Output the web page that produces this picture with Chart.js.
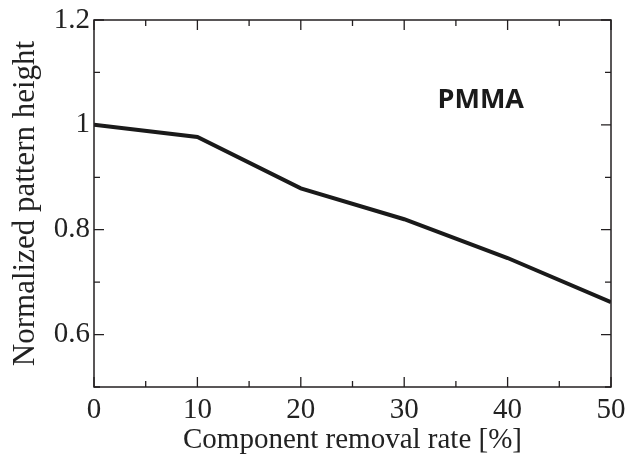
<!DOCTYPE html>
<html>
<head>
<meta charset="utf-8">
<script src="https://cdn.jsdelivr.net/npm/chart.js@4"></script>
<style>
  html, body { margin: 0; padding: 0; background: #fff; }
  #wrap { width: 627px; height: 467px; }
</style>
</head>
<body>
<div id="wrap"><canvas id="chart"></canvas></div>
<script>
// data
const removalRate = [0, 10, 20, 30, 40, 50];
const patternHeight = [1.0, 0.977, 0.879, 0.82, 0.746, 0.662];
const xTitle = 'Component removal rate [%]';
const yTitle = 'Normalized pattern height';
const noteText = 'PMMA';
const notePos = {x: 37.4, y: 1.047};

const serif = 'Liberation Serif';
const ink = '#231f20';

// frame + inward ticks on all four sides, plus the PMMA label
const framePlugin = {
    id: 'frame',
    afterDraw(chart) {
        const ctx = chart.ctx;
        const a = chart.chartArea;
        const xs = chart.scales.x, ys = chart.scales.y;
        ctx.save();
        ctx.strokeStyle = ink;
        ctx.lineWidth = 1.5;
        ctx.strokeRect(a.left, a.top, a.right - a.left, a.bottom - a.top);

        ctx.lineWidth = 1.3;
        xs.ticks.forEach(t => {
            const px = xs.getPixelForValue(t.value);
            const len = Math.round(t.value) % 10 === 0 ? 10 : 6;
            ctx.beginPath();
            ctx.moveTo(px, a.bottom); ctx.lineTo(px, a.bottom - len);
            ctx.moveTo(px, a.top); ctx.lineTo(px, a.top + len);
            ctx.stroke();
        });
        ys.ticks.forEach(t => {
            const py = ys.getPixelForValue(t.value);
            const len = Math.round(t.value * 10) % 2 === 0 ? 10 : 6;
            ctx.beginPath();
            ctx.moveTo(a.left, py); ctx.lineTo(a.left + len, py);
            ctx.moveTo(a.right, py); ctx.lineTo(a.right - len, py);
            ctx.stroke();
        });

        ctx.fillStyle = '#1a1a1a';
        ctx.font = 'bold 27px "Open Sans"';
        ctx.textAlign = 'center';
        ctx.textBaseline = 'middle';
        ctx.fillText(noteText, xs.getPixelForValue(notePos.x), ys.getPixelForValue(notePos.y));
        ctx.restore();
    }
};

new Chart('chart', {
    type: 'line',
    data: {
        datasets: [{
            data: removalRate.map((x, i) => ({x: x, y: patternHeight[i]})),
            borderColor: '#1a1a1a',
            borderWidth: 4,
            pointRadius: 0,
            tension: 0,
            fill: false
        }]
    },
    options: {
        responsive: true,
        maintainAspectRatio: false,
        animation: false,
        layout: {padding: {top: 20, right: 0, left: 0, bottom: 0}},
        plugins: {legend: {display: false}, tooltip: {enabled: false}},
        scales: {
            x: {
                type: 'linear',
                min: 0, max: 50,
                grid: {display: false, drawTicks: false},
                border: {display: false},
                ticks: {
                    stepSize: 5,
                    padding: 6,
                    color: '#222',
                    font: {family: serif, size: 29},
                    maxRotation: 0,
                    autoSkip: false,
                    callback: v => Math.round(v) % 10 === 0 ? String(v) : ''
                },
                title: {
                    display: true,
                    text: xTitle,
                    color: '#222',
                    font: {family: serif, size: 29, lineHeight: 1.2},
                    padding: {top: 0, bottom: 9}
                },
                afterFit: s => { s.height = 80; s.paddingRight = 16; s.paddingLeft = 0; }
            },
            y: {
                min: 0.5, max: 1.2,
                grid: {display: false, drawTicks: false},
                border: {display: false},
                ticks: {
                    stepSize: 0.1,
                    padding: 4,
                    color: '#222',
                    font: {family: serif, size: 29},
                    autoSkip: false,
                    callback: v => {
                        const k = Math.round(v * 10);
                        return (k % 2 === 0 && k > 5) ? String(+v.toFixed(1)) : '';
                    }
                },
                title: {
                    display: true,
                    text: yTitle,
                    color: '#222',
                    font: {family: serif, size: 31, lineHeight: 1.2},
                    padding: {top: 7, bottom: 0}
                },
                afterFit: s => { s.width = 94; s.paddingTop = 20; s.paddingBottom = 0; }
            }
        }
    },
    plugins: [framePlugin]
});
</script>
</body>
</html>
